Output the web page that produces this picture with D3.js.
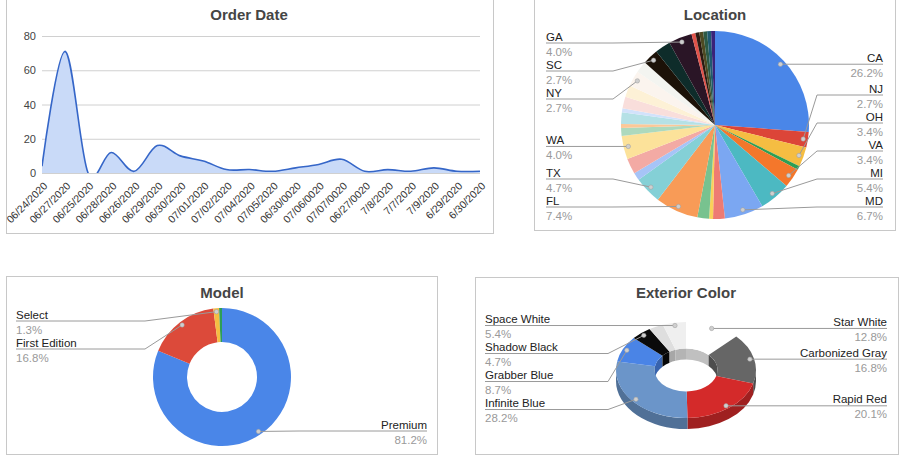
<!DOCTYPE html>
<html>
<head>
<meta charset="utf-8">
<script src="https://cdn.jsdelivr.net/npm/d3@7"></script>
<style>
  body { margin: 0; background: #fff; }
  svg { display: block; font-family: Arial, "Liberation Sans", sans-serif; }
</style>
</head>
<body>
<svg id="chart" width="900" height="463"></svg>
<script>
'use strict';

// --- Order Date (area line)
var orderDates = ['06/24/2020', '06/27/2020', '06/25/2020', '06/28/2020', '06/26/2020', '06/29/2020',
  '06/30/2020', '07/01/2020', '07/02/2020', '07/04/2020', '07/05/2020', '06/30/0020', '07/06/0020',
  '07/07/0020', '06/27/0020', '7/8/2020', '7/7/2020', '7/9/2020', '6/29/2020', '6/30/2020'];
var orderCounts = [4, 71, 0, 12, 1, 16, 10, 7, 2, 2, 1, 3, 5, 8, 1, 2, 1, 3, 1, 1];
var orderTicks = [0, 20, 40, 60, 80];

// --- Location (pie), '' = slice without a label
var locationNames = ['CA', 'NJ', 'OH', '', 'VA', 'MI', 'MD', '', '', '', 'FL', 'TX', '', '', 'WA',
  '', '', '', '', '', '', 'NY', '', 'SC', '', 'GA', '', '', '', '', '', ''];
var locationCounts = [39, 4, 5, 1, 5, 8, 10, 3, 1, 3, 11, 7, 2, 4, 6,
  2, 1, 3, 1, 3, 3, 4, 3, 4, 4, 6, 1, 1, 1, 1, 1, 1];
var locationColors = ['#4a86e8', '#dc4538', '#f5bd42', '#2e9e55', '#f4772b', '#4cb9c2', '#7ba7f2',
  '#ee7b73', '#f9d25a', '#78c28f', '#f89b57', '#84d0d6', '#a6c4f7', '#f3aaa4', '#fce29a',
  '#add9bd', '#fcc898', '#b5e1e6', '#d2e2fb', '#f9dedb', '#fdf1d6', '#fbf4ee', '#f3f4f0',
  '#1c1208', '#0e2c2a', '#2a1526', '#e0534a', '#2b1a12', '#4d4a22', '#2d5a45', '#1f5a70', '#3a237a'];

// --- Model (donut)
var modelNames = ['Premium', 'First Edition', 'Select', ''];
var modelCounts = [121, 25, 2, 1];
var modelColors = ['#4a86e8', '#dc4a3a', '#f5bd42', '#2e9e55'];

// --- Exterior Color (3d donut)
var colorNames = ['Star White', 'Carbonized Gray', 'Rapid Red', 'Infinite Blue', 'Grabber Blue',
  'Shadow Black', '', 'Space White'];
var colorCounts = [19, 25, 30, 42, 13, 7, 5, 8];
var colorFills = ['#ffffff', '#666666', '#d42a2a', '#6b95c9', '#4a84e6', '#0a0a0a', '#dedede', '#efefef'];

var svg = d3.select('#chart');
var pct = d3.format('.1%');
var TITLE = '#454545', NAME = '#222', PCT = '#9a9a9a', LEADER = '#9a9a9a';

function frame(x0, y0, x1, y1) {
  svg.append('rect').attr('x', x0 + 0.5).attr('y', y0 + 0.5)
    .attr('width', x1 - x0).attr('height', y1 - y0)
    .attr('fill', 'none').attr('stroke', '#c8c8c8');
}

function title(text, x, y) {
  svg.append('text').attr('x', x).attr('y', y).attr('text-anchor', 'middle')
    .attr('font-size', 15).attr('font-weight', 'bold').attr('fill', TITLE).text(text);
}

// Stack labels of one side: start at the dot height, keep a gap, stay inside [top, bottom]
function stack(items, top, bottom, gap) {
  items.sort(function(a, b) { return a.dot[1] - b.dot[1]; });
  items.forEach(function(d, i) {
    d.ly = Math.max(d.dot[1], top, i ? items[i - 1].ly + gap : -Infinity);
  });
  for (var i = items.length - 1; i >= 0; i--) {
    var lim = i < items.length - 1 ? items[i + 1].ly - gap : bottom;
    items[i].ly = Math.min(items[i].ly, lim);
  }
}

function labels(items, o) {
  var left = items.filter(function(d) { return d.side < 0; });
  var right = items.filter(function(d) { return d.side > 0; });
  stack(left, o.top, o.bottom, 28);
  stack(right, o.top, o.bottom, 28);

  var g = svg.append('g');
  left.concat(right).forEach(function(d) {
    var tx = d.side < 0 ? o.leftX : o.rightX;
    var ex = d.side < 0 ? o.cx - o.rx - 8 : o.cx + o.rx + 8;
    var anchor = d.side < 0 ? 'start' : 'end';
    g.append('path')
      .attr('d', 'M' + tx + ',' + d.ly + 'H' + ex + 'L' + d.dot[0] + ',' + d.dot[1])
      .attr('fill', 'none').attr('stroke', LEADER).attr('stroke-width', 1);
    g.append('circle').attr('cx', d.dot[0]).attr('cy', d.dot[1]).attr('r', 2.2)
      .attr('fill', '#cfcfcf').attr('stroke', '#9a9a9a').attr('stroke-width', 0.5);
    g.append('text').attr('x', tx).attr('y', d.ly - 2.5).attr('text-anchor', anchor)
      .attr('font-size', 11.5).attr('fill', NAME).text(d.name);
    g.append('text').attr('x', tx).attr('y', d.ly + 12.5).attr('text-anchor', anchor)
      .attr('font-size', 11.5).attr('fill', PCT).text(d.pct);
  });
}

// ---------------- Order Date ----------------
frame(6, -2, 493, 233);
title('Order Date', 249, 20);

(function() {
  var x = d3.scalePoint().domain(orderDates).range([42, 480]);
  var y = d3.scaleLinear().domain([0, 80]).range([173, 36]);
  var g = svg.append('g');

  var yAxis = g.append('g').attr('transform', 'translate(42,0)')
    .call(d3.axisLeft(y).tickValues(orderTicks).tickSize(-(480 - 42)).tickPadding(6));
  yAxis.select('.domain').remove();
  yAxis.selectAll('line').attr('stroke', '#d0d0d0');
  yAxis.selectAll('text').attr('font-size', 11).attr('fill', '#444').attr('font-family', null);

  g.append('clipPath').attr('id', 'plotclip')
    .append('rect').attr('x', 42).attr('y', 0).attr('width', 480 - 42).attr('height', 173);

  var curve = d3.curveCardinal.tension(0);
  var area = d3.area().curve(curve)
    .x(function(d, i) { return x(orderDates[i]); })
    .y0(y(0)).y1(function(d) { return y(d); });
  var line = d3.line().curve(curve)
    .x(function(d, i) { return x(orderDates[i]); })
    .y(function(d) { return y(d); });

  var plot = g.append('g').attr('clip-path', 'url(#plotclip)');
  plot.append('path').attr('d', area(orderCounts)).attr('fill', '#c9daf8');
  plot.append('path').attr('d', line(orderCounts)).attr('fill', 'none')
    .attr('stroke', '#3566c8').attr('stroke-width', 1.6);

  var xAxis = g.append('g').attr('transform', 'translate(0,173)')
    .call(d3.axisBottom(x).tickSize(0));
  xAxis.select('.domain').remove();
  xAxis.selectAll('text')
    .attr('font-size', 10.5).attr('fill', '#333').attr('font-family', null)
    .attr('x', 0).attr('y', 0).attr('dy', '0.35em')
    .attr('transform', 'translate(3,11) rotate(-45)')
    .style('text-anchor', 'end');
})();

// ---------------- Location ----------------
frame(534, -2, 895, 230);
title('Location', 715, 20);

(function() {
  var c = [715, 125], r = 94;
  var total = d3.sum(locationCounts);
  var arcs = d3.pie().sort(null).value(function(d) { return d; })(locationCounts);
  var arc = d3.arc().innerRadius(0).outerRadius(r);
  var g = svg.append('g').attr('transform', 'translate(' + c + ')');
  g.selectAll('path').data(arcs).enter().append('path')
    .attr('d', arc).attr('fill', function(d, i) { return locationColors[i]; });

  var items = [];
  arcs.forEach(function(a, i) {
    if (!locationNames[i]) return;
    var m = (a.startAngle + a.endAngle) / 2;
    items.push({
      name: locationNames[i], pct: pct(locationCounts[i] / total),
      dot: [c[0] + 0.95 * r * Math.sin(m), c[1] - 0.95 * r * Math.cos(m)],
      side: m < Math.PI ? 1 : -1
    });
  });
  labels(items, { cx: c[0], rx: r, leftX: 546, rightX: 883, top: 43, bottom: 207 });
})();

// ---------------- Model ----------------
frame(6, 276, 437, 454);
title('Model', 222, 298);

(function() {
  var c = [222, 377], r = 69, ir = 35;
  var total = d3.sum(modelCounts);
  var arcs = d3.pie().sort(null).value(function(d) { return d; })(modelCounts);
  var arc = d3.arc().innerRadius(ir).outerRadius(r);
  var g = svg.append('g').attr('transform', 'translate(' + c + ')');
  g.selectAll('path').data(arcs).enter().append('path')
    .attr('d', arc).attr('fill', function(d, i) { return modelColors[i]; });

  var items = [];
  arcs.forEach(function(a, i) {
    if (!modelNames[i]) return;
    var m = (a.startAngle + a.endAngle) / 2;
    items.push({
      name: modelNames[i], pct: pct(modelCounts[i] / total),
      dot: [c[0] + 0.95 * r * Math.sin(m), c[1] - 0.95 * r * Math.cos(m)],
      side: m < Math.PI ? 1 : -1
    });
  });
  labels(items, { cx: c[0], rx: r, leftX: 16, rightX: 427, top: 321, bottom: 431 });
})();

// ---------------- Exterior Color ----------------
frame(475, 277, 898, 454);
title('Exterior Color', 686, 298);

(function() {
  var c = [686, 370];
  var R = { rx: 70, ry: 48, irx: 31.5, iry: 21.5, h: 11 };
  var total = d3.sum(colorCounts);
  var arcs = d3.pie().sort(null).value(function(d) { return d; })(colorCounts);

  function pt(rx, ry, a, dz) {
    return [c[0] + rx * Math.sin(a), c[1] - ry * Math.cos(a) + (dz || 0)];
  }
  function top(a0, a1) {
    var big = a1 - a0 > Math.PI ? 1 : 0;
    return 'M' + pt(R.rx, R.ry, a0) + 'A' + R.rx + ',' + R.ry + ' 0 ' + big + ' 1 ' + pt(R.rx, R.ry, a1) +
      'L' + pt(R.irx, R.iry, a1) + 'A' + R.irx + ',' + R.iry + ' 0 ' + big + ' 0 ' + pt(R.irx, R.iry, a0) + 'Z';
  }
  function wall(rx, ry, a0, a1) {
    var big = a1 - a0 > Math.PI ? 1 : 0;
    return 'M' + pt(rx, ry, a0) + 'A' + rx + ',' + ry + ' 0 ' + big + ' 1 ' + pt(rx, ry, a1) +
      'L' + pt(rx, ry, a1, R.h) + 'A' + rx + ',' + ry + ' 0 ' + big + ' 0 ' + pt(rx, ry, a0, R.h) + 'Z';
  }
  function clip(a, lo, hi) {
    var s = Math.max(a.startAngle, lo), e = Math.min(a.endAngle, hi);
    return s < e ? [s, e] : null;
  }

  var g = svg.append('g');
  var PI = Math.PI;
  // inner walls (far side of the hole)
  arcs.forEach(function(a, i) {
    [[0, PI / 2], [3 * PI / 2, 2 * PI]].forEach(function(rg) {
      var s = clip(a, rg[0], rg[1]);
      if (s) g.append('path').attr('d', wall(R.irx, R.iry, s[0], s[1]))
        .attr('fill', d3.color(colorFills[i]).darker(0.8));
    });
  });
  // outer walls (near side)
  arcs.forEach(function(a, i) {
    var s = clip(a, PI / 2, 3 * PI / 2);
    if (s) g.append('path').attr('d', wall(R.rx, R.ry, s[0], s[1]))
      .attr('fill', d3.color(colorFills[i]).darker(0.8));
  });
  // top faces
  arcs.forEach(function(a, i) {
    g.append('path').attr('d', top(a.startAngle, a.endAngle)).attr('fill', colorFills[i]);
  });

  var items = [];
  arcs.forEach(function(a, i) {
    if (!colorNames[i]) return;
    var m = (a.startAngle + a.endAngle) / 2;
    items.push({
      name: colorNames[i], pct: pct(colorCounts[i] / total),
      dot: pt(R.rx * 0.94, R.ry * 0.94, m),
      side: m < Math.PI ? 1 : -1
    });
  });
  labels(items, { cx: c[0], rx: R.rx, leftX: 485, rightX: 887, top: 321, bottom: 431 });
})();
</script>
</body>
</html>
